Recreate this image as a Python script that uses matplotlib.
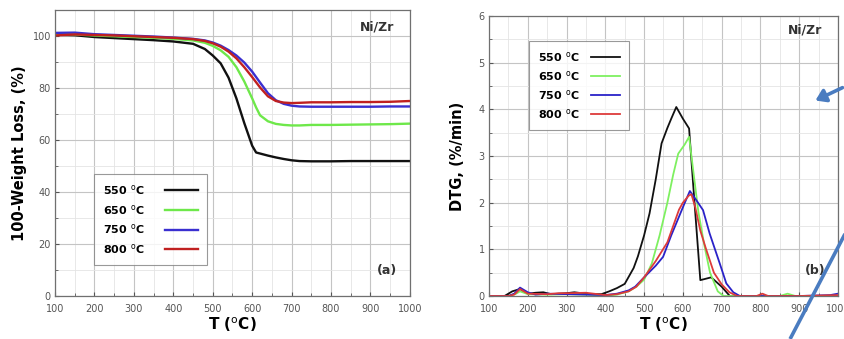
import matplotlib
matplotlib.use("Agg")
import matplotlib.pyplot as plt
from matplotlib.ticker import MultipleLocator
from matplotlib.patches import FancyArrowPatch
from matplotlib.lines import Line2D

# ---- TG curves (100 - weight loss, %) ----
T_tg = [100, 150, 200, 250, 300, 350, 400, 450, 480, 500, 520, 540, 560, 580,
        600, 610, 620, 640, 660, 680, 700, 720, 750, 800, 850, 900, 950, 1000]
tg_550 = [100.5, 100.3, 99.6, 99.2, 98.8, 98.4, 97.9, 97.0, 95.0, 92.5, 89.5, 84.0, 76.0, 66.5,
          57.8, 55.2, 54.8, 54.0, 53.3, 52.7, 52.2, 51.9, 51.8, 51.8, 51.9, 51.9, 51.9, 51.9]
tg_650 = [100.8, 100.6, 100.2, 99.9, 99.6, 99.3, 98.9, 98.3, 97.4, 96.2, 94.5, 92.0, 88.0, 82.5,
          76.0, 72.5, 69.5, 67.2, 66.2, 65.8, 65.6, 65.6, 65.8, 65.8, 65.9, 66.0, 66.1, 66.3]
tg_750 = [101.2, 101.3, 100.7, 100.4, 100.1, 99.8, 99.4, 98.9, 98.3, 97.5, 96.3, 94.6, 92.5, 89.8,
          86.3, 84.2, 82.1, 78.0, 75.3, 73.9, 73.2, 72.9, 72.8, 72.8, 72.8, 72.8, 72.9, 72.9]
tg_800 = [100.2, 100.6, 100.4, 100.2, 99.9, 99.6, 99.3, 98.8, 98.1, 97.2, 95.9, 94.0, 91.4, 88.0,
          84.2, 82.2, 80.2, 76.8, 75.0, 74.4, 74.2, 74.3, 74.5, 74.5, 74.6, 74.6, 74.7, 75.0]

# ---- DTG curves (%/min) ----
T_dtg_550 = [100, 140, 160, 180, 200, 220, 240, 260, 280, 300, 320, 340, 360, 390, 410, 430, 450,
             473, 484, 500, 514, 530, 545, 560, 570, 583, 600, 616, 630, 645, 673, 700, 721, 760, 1000]
dtg_550 = [0, 0, 0.1, 0.15, 0.05, 0.07, 0.08, 0.04, 0.05, 0.06, 0.08, 0.06, 0.04, 0.04, 0.1, 0.17, 0.26,
           0.6, 0.85, 1.3, 1.77, 2.5, 3.27, 3.6, 3.8, 4.05, 3.8, 3.59, 2.0, 0.34, 0.4, 0.2, 0, 0, 0]

T_dtg_650 = [100, 150, 170, 180, 200, 250, 300, 350, 380, 400, 430, 460, 480, 500, 520, 540, 560,
             575, 588, 605, 616, 625, 640, 655, 670, 690, 705, 800, 850, 870, 890, 1000]
dtg_650 = [0, 0, 0.05, 0.1, 0.04, 0.03, 0.04, 0.03, 0.02, 0, 0.03, 0.1, 0.2, 0.35, 0.7, 1.3, 2.0,
           2.6, 3.05, 3.25, 3.41, 2.8, 1.8, 1.1, 0.5, 0.1, 0, 0, 0, 0.05, 0, 0]

T_dtg_750 = [100, 150, 165, 180, 200, 220, 250, 300, 350, 400, 430, 460, 477, 500, 530, 549, 570,
             590, 605, 618, 635, 652, 669, 695, 712, 730, 747, 800, 900, 980, 1000]
dtg_750 = [0, 0, 0.05, 0.18, 0.08, 0.03, 0.05, 0.04, 0.03, 0.02, 0.05, 0.12, 0.2, 0.4, 0.65, 0.84, 1.3,
           1.7, 2.0, 2.25, 2.05, 1.84, 1.34, 0.7, 0.27, 0.08, 0, 0, 0, 0.02, 0.05]

T_dtg_800 = [100, 150, 165, 180, 200, 250, 280, 300, 350, 380, 400, 430, 460, 480, 500, 530, 560,
             575, 590, 600, 615, 622, 632, 645, 660, 680, 700, 720, 740, 790, 805, 820, 900, 1000]
dtg_800 = [0, 0, 0.03, 0.15, 0.05, 0.04, 0.06, 0.06, 0.07, 0.04, 0.02, 0.04, 0.1, 0.2, 0.4, 0.75, 1.15,
           1.5, 1.85, 2.0, 2.15, 2.18, 1.9, 1.4, 1.0, 0.5, 0.25, 0.08, 0, 0, 0.05, 0, 0, 0.02]

labels = [r"550 $^{\rm o}$C", r"650 $^{\rm o}$C", r"750 $^{\rm o}$C", r"800 $^{\rm o}$C"]
colors_a = ["#111111", "#6ee84a", "#3a2fd0", "#c02020"]
colors_b = ["#111111", "#7ef060", "#2a22c8", "#dd3a3a"]

fig = plt.figure(figsize=(8.45, 3.39), dpi=100)
ax1 = fig.add_axes([0.0651, 0.1268, 0.420, 0.8437])
ax2 = fig.add_axes([0.5787, 0.1268, 0.413, 0.826])

tick_col = "#555555"


def style(ax, ymaj, ymin):
    ax.set_xlim(100, 1000)
    ax.xaxis.set_major_locator(MultipleLocator(100))
    ax.xaxis.set_minor_locator(MultipleLocator(50))
    ax.yaxis.set_major_locator(MultipleLocator(ymaj))
    ax.yaxis.set_minor_locator(MultipleLocator(ymin))
    ax.grid(which="major", color="#c4c4c4", lw=0.8)
    ax.grid(which="minor", color="#e4e4e4", lw=0.6)
    ax.set_axisbelow(True)
    ax.tick_params(which="both", direction="in", labelsize=7, colors=tick_col)
    ax.tick_params(axis="x", which="both", pad=6)
    ax.tick_params(axis="y", which="both", pad=3)
    ax.tick_params(which="major", length=3)
    ax.tick_params(which="minor", length=2)
    for s in ax.spines.values():
        s.set_color("#707070")
        s.set_linewidth(0.9)


# (a) TG
style(ax1, 20, 10)
ax1.set_ylim(0, 110)
ax1.set_yticks([0, 20, 40, 60, 80, 100])
for y, c, lab in zip([tg_550, tg_650, tg_750, tg_800], colors_a, labels):
    ax1.plot(T_tg, y, color=c, lw=1.7, label=lab)
ax1.set_xlabel(r"T ($^{\rm o}$C)", fontsize=11, fontweight="bold", labelpad=1)
ax1.set_ylabel("100-Weight Loss, (%)", fontsize=10.5, fontweight="bold", labelpad=4)
ax1.text(0.955, 0.94, "Ni/Zr", transform=ax1.transAxes, ha="right", va="center",
         fontsize=9, fontweight="bold", color="#333333")
ax1.text(0.965, 0.09, "(a)", transform=ax1.transAxes, ha="right", va="center",
         fontsize=9, fontweight="bold", color="#333333")
leg1 = ax1.legend(loc="lower left", bbox_to_anchor=(0.095, 0.09), markerfirst=False,
                  prop={"weight": "bold", "size": 8}, frameon=True, fancybox=False,
                  edgecolor="#808080", handlelength=3.0, labelspacing=0.5,
                  borderpad=0.8, handletextpad=1.8)
leg1.get_frame().set_linewidth(0.8)

# (b) DTG
style(ax2, 1, 0.5)
ax2.set_ylim(0, 6)
for T, y, c, lab in zip([T_dtg_550, T_dtg_650, T_dtg_750, T_dtg_800],
                        [dtg_550, dtg_650, dtg_750, dtg_800], colors_b, labels):
    ax2.plot(T, y, color=c, lw=1.3, label=lab)
ax2.set_xlabel(r"T ($^{\rm o}$C)", fontsize=11, fontweight="bold", labelpad=1)
ax2.set_ylabel("DTG, (%/min)", fontsize=10.5, fontweight="bold", labelpad=10)
ax2.text(0.955, 0.95, "Ni/Zr", transform=ax2.transAxes, ha="right", va="center",
         fontsize=9, fontweight="bold", color="#333333")
ax2.text(0.965, 0.09, "(b)", transform=ax2.transAxes, ha="right", va="center",
         fontsize=9, fontweight="bold", color="#333333")
leg2 = ax2.legend(loc="upper left", bbox_to_anchor=(0.10, 0.93), markerfirst=False,
                  prop={"weight": "bold", "size": 8}, frameon=True, fancybox=False,
                  edgecolor="#808080", handlelength=2.6, labelspacing=0.45,
                  borderpad=0.8, handletextpad=1.0)
leg2.get_frame().set_linewidth(0.8)

# blue pointer marks drawn over the right panel
arrow_col = "#4a7cc0"
fig.add_artist(Line2D([0.935, 1.0], [0.0, 0.31], transform=fig.transFigure,
                      color=arrow_col, lw=2.6, solid_capstyle="butt"))
fig.add_artist(FancyArrowPatch((1.0, 0.745), (0.962, 0.700), transform=fig.transFigure,
                               arrowstyle="-|>,head_length=6,head_width=4",
                               color=arrow_col, lw=2.6))

fig.savefig("out.png", dpi=100)
